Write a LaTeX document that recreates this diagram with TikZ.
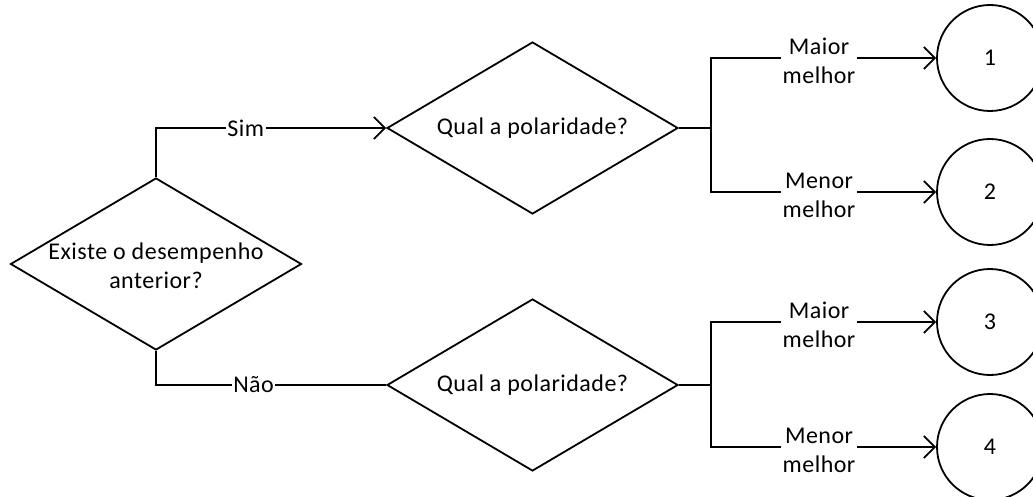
\documentclass[tikz,border=0pt]{standalone}
\usepackage{fontspec}
\setmainfont{Carlito}[LetterSpace=2]
\usetikzlibrary{shapes.geometric,arrows.meta}
\begin{document}
\begin{tikzpicture}[x=1pt,y=-1pt,line width=1.8pt,
  dec/.style={diamond,draw,minimum width=291pt,minimum height=172pt,inner sep=0pt},
  endc/.style={circle,draw,minimum size=106pt,inner sep=0pt,font=\fontsize{24}{29}\selectfont},
  txt/.style={align=center,inner sep=0pt,font=\fontsize{24}{29}\selectfont},
  lbl/.style={fill=white,inner sep=1.5pt,align=center,font=\fontsize{24}{29}\selectfont},
  arr/.style={-{Straight Barb[length=11pt,width=22pt]}}]
\useasboundingbox (0,0) rectangle (1033,497);
\node[dec] (d0) at (156,264) {};
\node[txt] (d0t) at (156,266) {Existe o desempenho\\anterior?};
\node[dec] (q1) at (532.5,128) {};
\node[txt] (q1t) at (532.5,128) {Qual a polaridade?};
\node[dec] (q2) at (532.5,385) {};
\node[txt] (q2t) at (532.5,385) {Qual a polaridade?};
\node[endc] (c1) at (990,58) {1};
\node[endc] (c2) at (990,192) {2};
\node[endc] (c3) at (990,322) {3};
\node[endc] (c4) at (990,447) {4};
\coordinate (b1) at (711,128);
\coordinate (b2) at (711,385);
\draw[arr] (d0.north) |- node[lbl,pos=0.695]{Sim} (q1.west);
\draw (d0.south) |- node[lbl,pos=0.712]{Não} (q2.west);
\draw (q1.east) -- (b1);
\draw (q2.east) -- (b2);
\draw[arr] (b1) |- node[lbl,pos=0.74,yshift=-3pt]{Maior\\melhor} (c1.west);
\draw[arr] (b1) |- node[lbl,pos=0.74,yshift=-3pt]{Menor\\melhor} (c2.west);
\draw[arr] (b2) |- node[lbl,pos=0.74,yshift=-3pt]{Maior\\melhor} (c3.west);
\draw[arr] (b2) |- node[lbl,pos=0.74,yshift=-3pt]{Menor\\melhor} (c4.west);
\end{tikzpicture}
\end{document}
